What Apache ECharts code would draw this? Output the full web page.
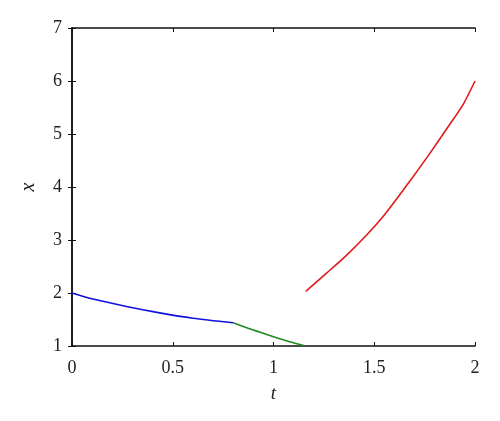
<!DOCTYPE html>
<html><head><meta charset="utf-8">
<script src="https://cdn.jsdelivr.net/npm/echarts@6/dist/echarts.min.js"></script>
<style>html,body{margin:0;padding:0;background:#fff}#c{width:500px;height:421px}</style>
</head><body><div id="c"></div>
<script>
var blueT = [0, 0.104, 0.27, 0.435, 0.6, 0.8];
var blueX = [2.0, 1.885, 1.745, 1.625, 1.525, 1.44];
var greenT = [0.8, 0.9, 1.0, 1.08, 1.15];
var greenX = [1.44, 1.30, 1.175, 1.08, 1.01];
var redT = [1.16, 1.262, 1.362, 1.461, 1.543, 1.61, 1.692, 1.775, 1.858, 1.94, 2.0];
var redX = [2.03, 2.37, 2.71, 3.09, 3.44, 3.77, 4.19, 4.63, 5.09, 5.55, 6.0];
var xTicks = [0, 0.5, 1, 1.5, 2];
var yTicks = [1, 2, 3, 4, 5, 6, 7];

function pairs(a, b){ return a.map(function(v,i){ return [v, b[i]]; }); }
var font = 'Liberation Serif';
var axisLine = {show:true, lineStyle:{color:'#111', width:1.5}};
var tick = {show:true, inside:true, length:4, lineStyle:{color:'#111', width:1}};
var chart = echarts.init(document.getElementById('c'), null, {renderer:'canvas'});
chart.setOption({
  animation:false,
  grid:{left:72, right:25, top:28, bottom:75, containLabel:false},
  xAxis:[{
    type:'value', min:0, max:2, interval:0.5, position:'bottom',
    name:'t', nameLocation:'middle', nameGap:38,
    nameTextStyle:{fontFamily:font, fontStyle:'italic', fontSize:19, color:'#222'},
    axisLine:axisLine, axisTick:tick, splitLine:{show:false},
    axisLabel:{fontFamily:font, fontSize:18, color:'#222', margin:13,
      formatter:function(v){ return xTicks.indexOf(v) >= 0 ? String(v) : ''; }}
  },{
    type:'value', min:0, max:2, interval:0.5, position:'top',
    axisLine:axisLine, axisTick:tick, splitLine:{show:false}, axisLabel:{show:false}
  }],
  yAxis:[{
    type:'value', min:1, max:7, interval:1, position:'left',
    name:'x', nameLocation:'middle', nameGap:33, nameRotate:90,
    nameTextStyle:{fontFamily:font, fontStyle:'italic', fontSize:20, color:'#222'},
    axisLine:axisLine, axisTick:tick, splitLine:{show:false},
    axisLabel:{fontFamily:font, fontSize:18, color:'#222', margin:10,
      formatter:function(v){ return yTicks.indexOf(v) >= 0 ? String(v) : ''; }}
  },{
    type:'value', min:1, max:7, interval:1, position:'right',
    axisLine:axisLine, axisTick:tick, splitLine:{show:false}, axisLabel:{show:false}
  }],
  series:[
    {type:'line', data:pairs(blueT, blueX), smooth:0.25, showSymbol:false, lineStyle:{color:'#1010e0', width:1.6}},
    {type:'line', data:pairs(greenT, greenX), smooth:0.25, showSymbol:false, lineStyle:{color:'#1e8a1e', width:1.6}},
    {type:'line', data:pairs(redT, redX), smooth:0.25, showSymbol:false, lineStyle:{color:'#e31a1a', width:1.6}}
  ]
});
</script></body></html>
